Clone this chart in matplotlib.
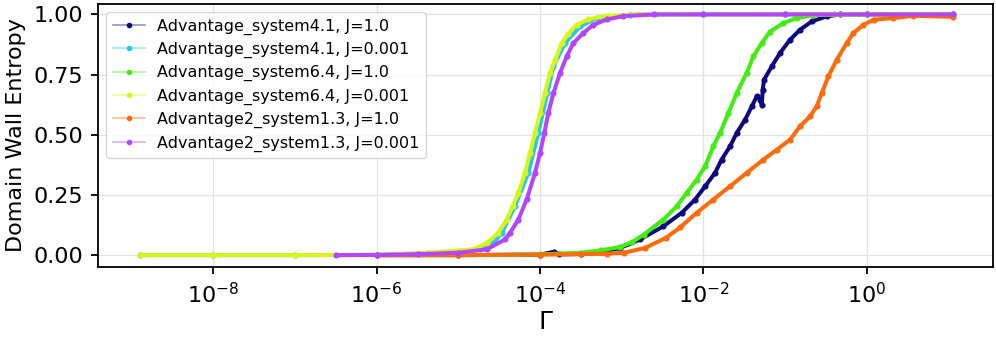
import matplotlib.pyplot as plt
from matplotlib.lines import Line2D
from matplotlib.ticker import NullLocator
from matplotlib.colors import to_rgba

# Series
labels = ["Advantage_system4.1, J=1.0", "Advantage_system4.1, J=0.001",
          "Advantage_system6.4, J=1.0", "Advantage_system6.4, J=0.001",
          "Advantage2_system1.3, J=1.0", "Advantage2_system1.3, J=0.001"]
colors = ["#0d0a80", "#1ec8ff", "#40ee10", "#d9f514", "#ff6a0a", "#b445ff"]

gamma_41_j1 = [1e-6, 1e-5, 1e-4, 1.48e-4, 1.7e-4, 3.2e-4, 5.6e-4, 9.55e-4, 1.68e-3,
               3.24e-3, 5.43e-3, 7.91e-3, 1.05e-2, 1.39e-2, 1.67e-2, 2.12e-2, 2.56e-2,
               3.24e-2, 3.91e-2, 4.50e-2, 4.94e-2, 5.18e-2, 5.32e-2, 5.53e-2, 6.87e-2,
               8.67e-2, 0.115, 0.152, 0.212, 0.324, 0.471, 1.0, 11.4]
dwe_41_j1 = [0.0, 0.0, 0.002, 0.014, 0.003, 0.005, 0.012, 0.03, 0.065,
             0.12, 0.176, 0.231, 0.286, 0.342, 0.397, 0.452, 0.508,
             0.563, 0.618, 0.66, 0.646, 0.625, 0.687, 0.729, 0.784,
             0.84, 0.895, 0.936, 0.971, 0.992, 1.0, 1.0, 1.0]

gamma_41_j001 = [1.27e-9, 1e-8, 1e-7, 1e-6, 4.27e-6, 7.9e-6, 1.85e-5, 2.69e-5, 3.40e-5,
                 4.94e-5, 7.19e-5, 9.55e-5, 1.23e-4, 1.46e-4, 2.02e-4, 3.09e-4, 4.94e-4,
                 1.26e-3, 1e-2, 0.1, 1.0, 11.4]
dwe_41_j001 = [0.0, 0.0, 0.0, 0.001, 0.008, 0.015, 0.024, 0.05, 0.093,
               0.203, 0.342, 0.508, 0.674, 0.784, 0.881, 0.95, 0.985,
               0.999, 1.0, 1.0, 1.0, 1.0]

gamma_64_j1 = [1e-6, 1e-5, 1e-4, 3.2e-4, 5.6e-4, 9.55e-4, 1.35e-3, 1.85e-3, 3.24e-3,
               4.72e-3, 6.25e-3, 8.28e-3, 1.05e-2, 1.32e-2, 1.60e-2, 2.02e-2, 2.56e-2,
               3.39e-2, 4.09e-2, 5.18e-2, 6.55e-2, 9.53e-2, 0.139, 0.222, 0.4, 1.0, 11.4]
dwe_64_j1 = [0.0, 0.0, 0.003, 0.01, 0.02, 0.034, 0.055, 0.085, 0.148,
             0.203, 0.259, 0.314, 0.369, 0.452, 0.508, 0.59, 0.674,
             0.757, 0.826, 0.881, 0.929, 0.964, 0.985, 0.997, 1.0, 1.0, 1.0]

gamma_64_j001 = [1.27e-9, 1e-8, 1e-7, 1e-6, 4.5e-6, 7.9e-6, 1.53e-5, 2.22e-5, 3.09e-5,
                 3.91e-5, 4.62e-5, 5.43e-5, 6.55e-5, 7.55e-5, 8.69e-5, 1.0e-4, 1.15e-4,
                 1.32e-4, 1.53e-4, 1.84e-4, 2.22e-4, 2.81e-4, 3.91e-4, 6.55e-4, 1.6e-3,
                 1e-2, 0.1, 1.0, 11.4]
dwe_64_j001 = [0.0, 0.0, 0.0, 0.001, 0.01, 0.017, 0.024, 0.05, 0.093,
               0.148, 0.203, 0.259, 0.342, 0.425, 0.508, 0.59, 0.674,
               0.757, 0.81, 0.88, 0.92, 0.957, 0.98, 0.994, 1.0,
               1.0, 1.0, 1.0, 1.0]

gamma_13_j1 = [1e-6, 1e-5, 1e-4, 3.2e-4, 6.6e-4, 1.07e-3, 1.93e-3, 3.48e-3, 5.18e-3,
               8.28e-3, 1.32e-2, 2.12e-2, 3.39e-2, 5.42e-2, 7.91e-2, 0.115, 0.152,
               0.202, 0.244, 0.281, 0.339, 0.429, 0.568, 0.685, 0.91, 1.21, 2.12,
               3.72, 11.4]
dwe_13_j1 = [0.0, 0.0, 0.002, 0.004, 0.006, 0.01, 0.03, 0.072, 0.115,
             0.176, 0.231, 0.286, 0.342, 0.397, 0.438, 0.48, 0.535,
             0.577, 0.618, 0.674, 0.743, 0.812, 0.881, 0.923, 0.957, 0.978, 0.985,
             0.994, 0.99]

gamma_13_j001 = [3.2e-7, 1e-6, 3.2e-6, 1e-5, 2.22e-5, 3.73e-5, 4.30e-5, 5.43e-5, 6.87e-5,
                 8.69e-5, 1.0e-4, 1.13e-4, 1.26e-4, 1.46e-4, 1.76e-4, 2.12e-4, 2.56e-4,
                 3.39e-4, 4.50e-4, 6.55e-4, 1.05e-3, 2.5e-3, 1e-2, 0.1, 1.0, 11.4]
dwe_13_j001 = [0.0, 0.001, 0.004, 0.01, 0.024, 0.065, 0.093, 0.148, 0.232,
               0.342, 0.425, 0.508, 0.59, 0.674, 0.757, 0.826, 0.881,
               0.923, 0.957, 0.979, 0.993, 1.0, 1.0, 1.0, 1.0, 1.0]

series = [(gamma_41_j1, dwe_41_j1), (gamma_41_j001, dwe_41_j001),
          (gamma_64_j1, dwe_64_j1), (gamma_64_j001, dwe_64_j001),
          (gamma_13_j1, dwe_13_j1), (gamma_13_j001, dwe_13_j001)]

fig = plt.figure(figsize=(9.96, 3.39), dpi=100)
ax = fig.add_axes([0.0987, 0.2133, 0.898, 0.7747])

for (g, d), c in zip(series, colors):
    ax.plot(g, d, color=c, lw=2.9, marker='o', ms=3.4, solid_capstyle='round')

ax.set_xscale('log')
ax.set_xlim(3.91e-10, 34.8)
ax.set_ylim(-0.048, 1.043)
ax.set_xticks([1e-8, 1e-6, 1e-4, 1e-2, 1.0])
ax.xaxis.set_minor_locator(NullLocator())
ax.set_yticks([0.0, 0.25, 0.5, 0.75, 1.0])
ax.tick_params(labelsize=16, length=5, width=1.3, pad=6)
ax.grid(True, color='#e2e2e2', lw=0.9)
ax.set_axisbelow(True)
for s in ax.spines.values():
    s.set_linewidth(1.3)

ax.set_xlabel(r'$\Gamma$', fontsize=18, labelpad=2)
ax.set_ylabel('Domain Wall Entropy', fontsize=16, labelpad=5)

handles = [Line2D([], [], color=to_rgba(c, 0.45), lw=1.2, marker='o', ms=3,
                  markerfacecolor=c, markeredgecolor=c) for c in colors]
ax.legend(handles, labels, loc='upper left', fontsize=11.5, labelspacing=0.45,
          handlelength=2.0, borderaxespad=0.5, framealpha=0.8)

fig.savefig('out.png', dpi=100)
